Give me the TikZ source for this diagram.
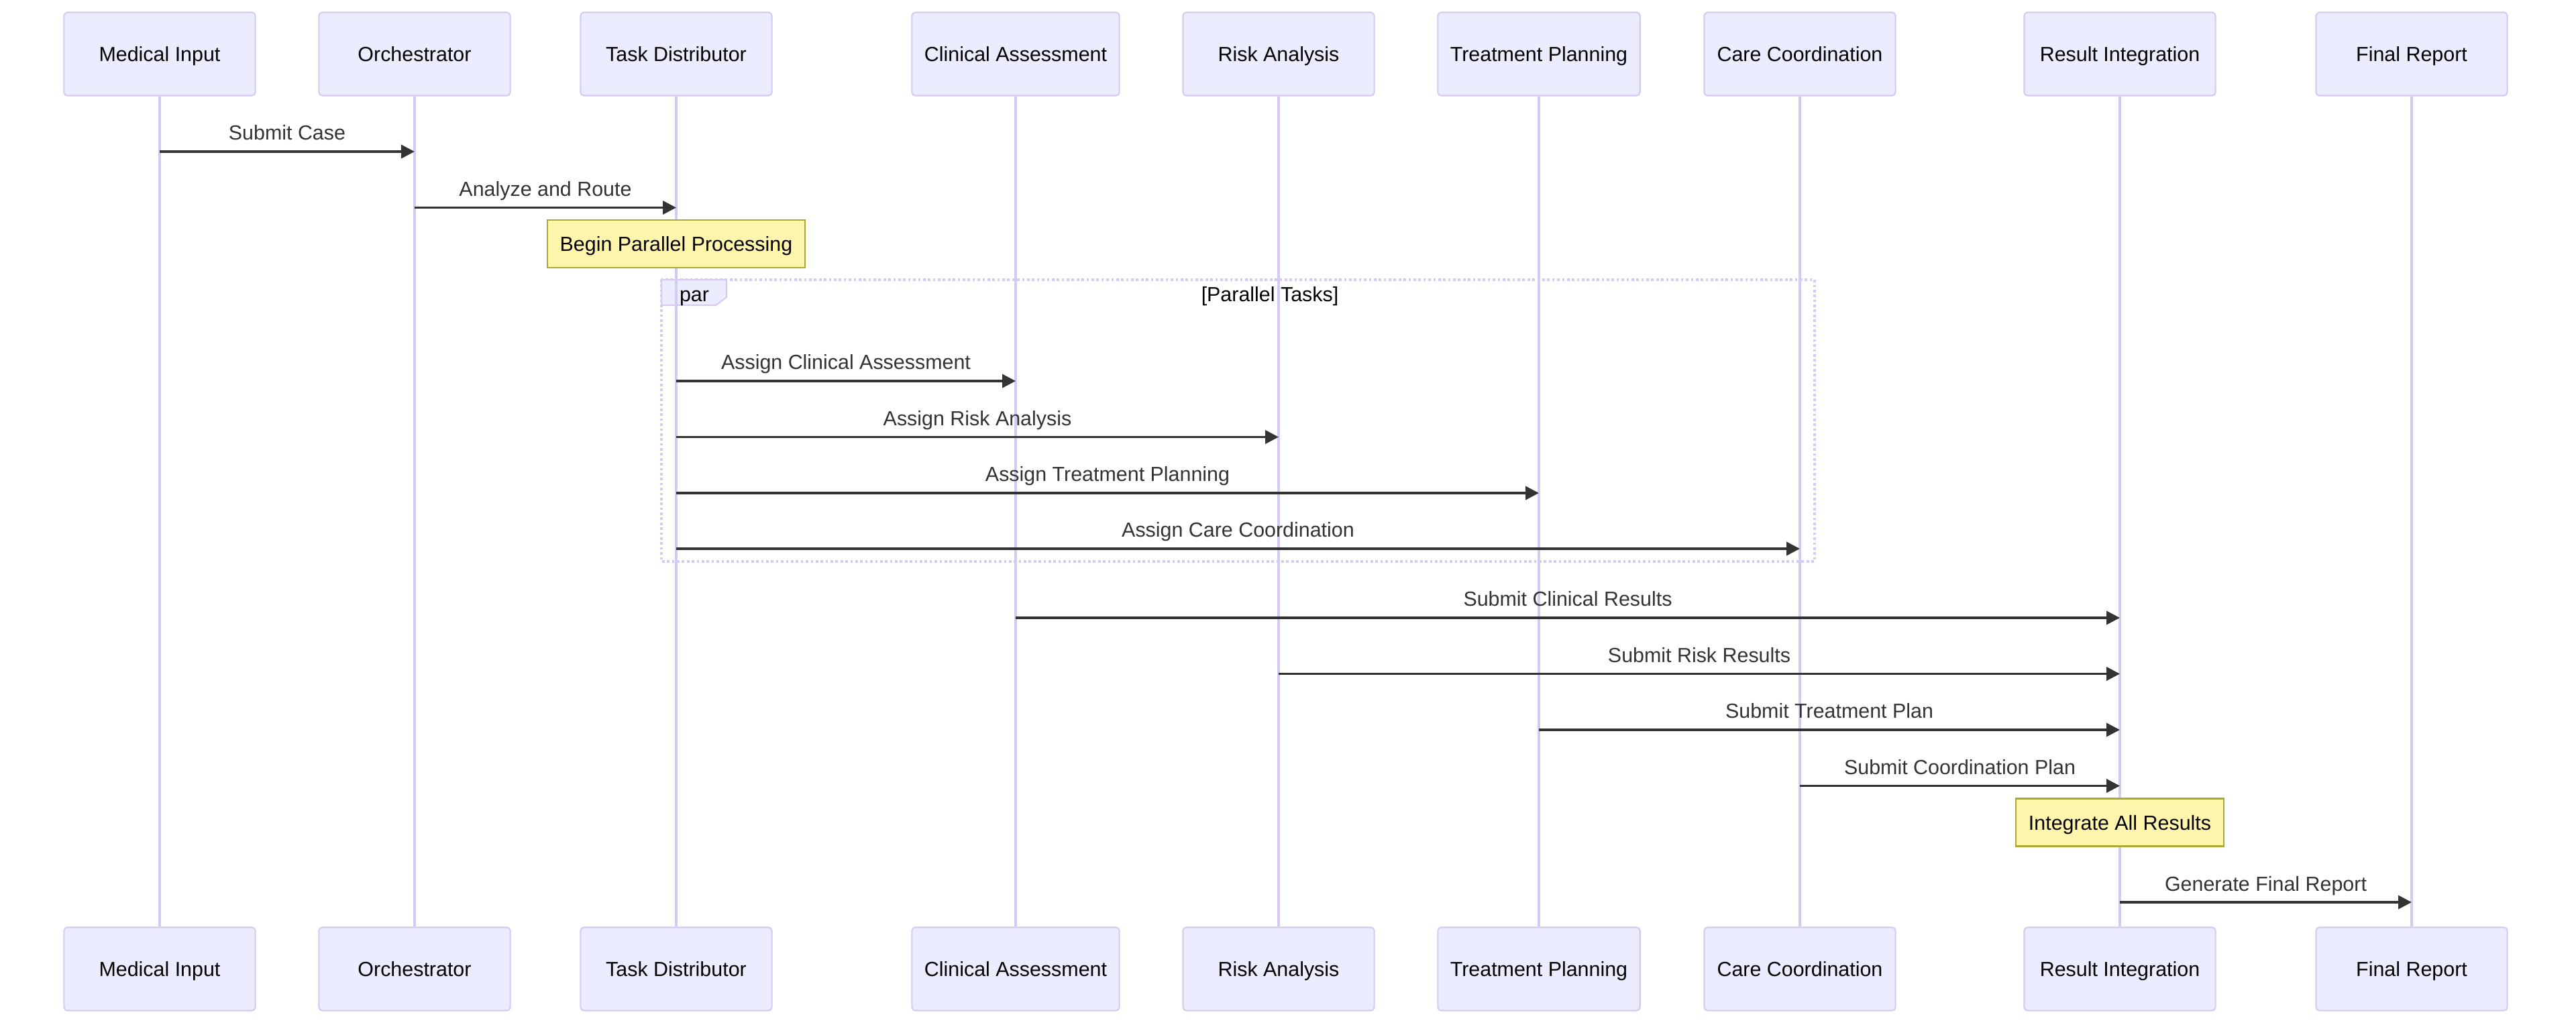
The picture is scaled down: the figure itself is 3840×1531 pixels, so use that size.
\documentclass[tikz,border=0pt]{standalone}
\usepackage{fontspec}
\setmainfont{Liberation Sans}
\usetikzlibrary{arrows.meta}
\definecolor{actorfill}{HTML}{ECECFF}
\definecolor{actorline}{HTML}{D6CAF2}
\definecolor{notefill}{HTML}{FFF5AD}
\definecolor{noteline}{HTML}{AAAA33}
\definecolor{msgcol}{HTML}{333333}
\def\sendmsg(#1)(#2)(#3)#4{\draw[msg] (#1 |- 0,#3) -- node[msglabel]{#4} (#2 |- 0,#3);}

\begin{document}
\begin{tikzpicture}[x=0.01cm, y=-0.01cm,
		txt/.style={font=\fontsize{8.65}{10}\selectfont},
		actor/.style={txt, draw=actorline, line width=0.6pt, fill=actorfill, rounded corners=0.05cm, minimum width=2.85cm, minimum height=1.24cm, inner xsep=0.185cm, text height=0.22cm, text depth=0cm},
		note/.style={txt, draw=noteline, line width=0.6pt, fill=notefill, minimum height=0.71cm, inner xsep=0.19cm, text height=0.22cm, text depth=0cm},
		lifeline/.style={draw=actorline, line width=1.1pt},
		loopline/.style={draw=actorline, line width=0.9pt, dash pattern=on 1.05pt off 1.05pt},
		looplabel/.style={draw=actorline, line width=0.6pt, fill=actorfill},
		looptext/.style={txt, anchor=base, inner sep=0pt},
		msg/.style={draw=msgcol, line width=1pt, -{Triangle[length=0.2cm, width=0.2cm]}},
		msglabel/.style={txt, text=msgcol, anchor=base, yshift=0.17cm, inner sep=0pt}]
		%%%%% START %%%%%
		
		\fill[white] (0,0) rectangle (3840,1531);
		\useasboundingbox (0,0) rectangle (3840,1531);
		
		\foreach \a/\x/\t in {med/238/Medical Input, orc/618/Orchestrator, dis/1008/Task Distributor, cli/1514/Clinical Assessment, risk/1906/Risk Analysis, treat/2294/Treatment Planning, care/2683/Care Coordination, res/3160/Result Integration, fin/3595/Final Report}{
			\node[actor] (\a-t) at (\x, 80.5) {\t};
			\node[actor] (\a-b) at (\x, 1444.5) {\t};
		}
		
		\draw[loopline] (986, 417) rectangle (2705, 837);
		\draw[looplabel] (986, 417) -- (1083, 417) -- (1083, 443) -- (1067, 455) -- (986, 455) -- cycle;
		\node[looptext] (partag) at (1035, 450) {par};
		\node[looptext] (partitle) at (1893, 450) {[Parallel Tasks]};
		
		\foreach \a in {med, orc, dis, cli, risk, treat, care, res, fin}
			\draw[lifeline] (\a-t.south) -- (\a-b.north);
		
		\node[note] (beginpar) at (dis-t |- 0, 363.5) {Begin Parallel Processing};
		\node[note] (integrate) at (res-t |- 0, 1226) {Integrate All Results};
		
		\sendmsg(med-t)(orc-t)(226){Submit Case}
		\sendmsg(orc-t)(dis-t)(309.5){Analyze and Route}
		
		\sendmsg(dis-t)(cli-t)(568){Assign Clinical Assessment}
		\sendmsg(dis-t)(risk-t)(651.5){Assign Risk Analysis}
		\sendmsg(dis-t)(treat-t)(735){Assign Treatment Planning}
		\sendmsg(dis-t)(care-t)(818){Assign Care Coordination}
		
		\sendmsg(cli-t)(res-t)(921){Submit Clinical Results}
		\sendmsg(risk-t)(res-t)(1004.5){Submit Risk Results}
		\sendmsg(treat-t)(res-t)(1088){Submit Treatment Plan}
		\sendmsg(care-t)(res-t)(1171.5){Submit Coordination Plan}
		
		\sendmsg(res-t)(fin-t)(1345){Generate Final Report}
		
		%%%%% END %%%%%
\end{tikzpicture}
\end{document}
